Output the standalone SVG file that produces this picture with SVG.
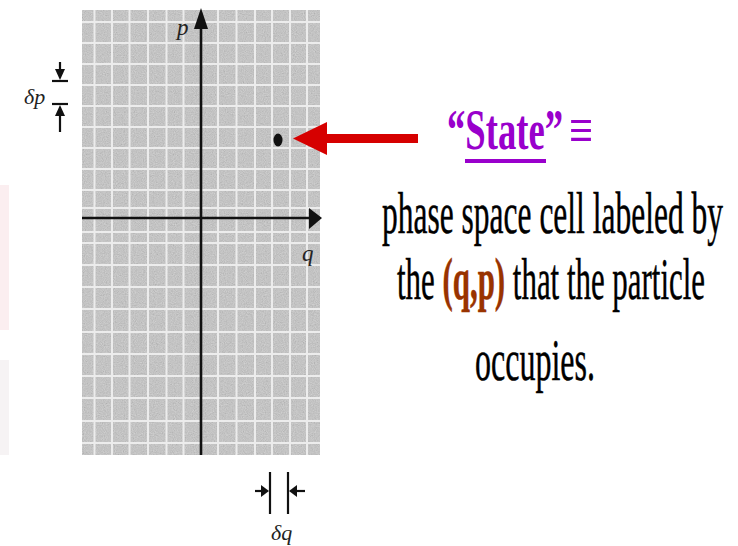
<svg xmlns="http://www.w3.org/2000/svg" width="738" height="546" viewBox="0 0 738 546">
<style>
.ax{stroke:#111;stroke-width:2.6;fill:none}
.axh{fill:#111}
.gl{stroke:#ececec;stroke-width:2}
.it{font-family:"Liberation Serif",serif;font-style:italic;fill:#222}
.body{font-family:"Liberation Serif",serif;font-size:60px;fill:#000;stroke:#000;stroke-width:0.5}
.dim{stroke:#111;stroke-width:2.2}
.st{font-family:"Liberation Serif",serif;fill:#9900cc}
</style>
<defs>
<filter id="noise" x="0" y="0" width="100%" height="100%">
<feTurbulence type="fractalNoise" baseFrequency="0.9" numOctaves="2" seed="7"/>
<feColorMatrix type="matrix" values="0.33 0.33 0.33 0 0 0.33 0.33 0.33 0 0 0.33 0.33 0.33 0 0 0 0 0 0 1"/>
</filter>
</defs>
<rect width="738" height="546" fill="#fff"/>
<rect x="0" y="185" width="9" height="145" fill="#fbeef0"/>
<rect x="0" y="360" width="9" height="95" fill="#f6f3f4"/>

<g id="grid">
<rect x="82" y="10" width="238" height="445" fill="#cacaca"/>
<rect x="82" y="10" width="238" height="445" filter="url(#noise)" opacity="0.4"/>
<g class="gl">
<line x1="82" y1="22" x2="320" y2="22"/>
<line x1="82" y1="43" x2="320" y2="43"/>
<line x1="82" y1="64" x2="320" y2="64"/>
<line x1="82" y1="85" x2="320" y2="85"/>
<line x1="82" y1="106" x2="320" y2="106"/>
<line x1="82" y1="127" x2="320" y2="127"/>
<line x1="82" y1="148" x2="320" y2="148"/>
<line x1="82" y1="169" x2="320" y2="169"/>
<line x1="82" y1="190" x2="320" y2="190"/>
<line x1="82" y1="208" x2="320" y2="208"/>
<line x1="82" y1="232" x2="320" y2="232"/>
<line x1="82" y1="243" x2="320" y2="243"/>
<line x1="82" y1="265" x2="320" y2="265"/>
<line x1="82" y1="287" x2="320" y2="287"/>
<line x1="82" y1="309" x2="320" y2="309"/>
<line x1="82" y1="332" x2="320" y2="332"/>
<line x1="82" y1="354" x2="320" y2="354"/>
<line x1="82" y1="376" x2="320" y2="376"/>
<line x1="82" y1="398" x2="320" y2="398"/>
<line x1="82" y1="421" x2="320" y2="421"/>
<line x1="82" y1="443" x2="320" y2="443"/>
<line x1="94.5" y1="10" x2="94.5" y2="455"/>
<line x1="112" y1="10" x2="112" y2="455"/>
<line x1="129.5" y1="10" x2="129.5" y2="455"/>
<line x1="148" y1="10" x2="148" y2="455"/>
<line x1="166.5" y1="10" x2="166.5" y2="455"/>
<line x1="183.5" y1="10" x2="183.5" y2="455"/>
<line x1="218" y1="10" x2="218" y2="455"/>
<line x1="236.5" y1="10" x2="236.5" y2="455"/>
<line x1="255" y1="10" x2="255" y2="455"/>
<line x1="272" y1="10" x2="272" y2="455"/>
<line x1="290" y1="10" x2="290" y2="455"/>
<line x1="307" y1="10" x2="307" y2="455"/>
</g>
</g>

<g id="axes">
<line class="ax" x1="201" y1="455" x2="201" y2="24"/>
<polygon class="axh" points="201,8 208,29 194,29"/>
<line class="ax" x1="82" y1="218" x2="312" y2="218"/>
<polygon class="axh" points="322,218 309,208 309,229"/>
<text class="it" x="177" y="35" font-size="23">p</text>
<text class="it" x="302" y="261" font-size="23">q</text>
</g>

<g id="delta-p">
<text class="it" x="24" y="104" font-size="22">δp</text>
<line class="dim" x1="60" y1="62" x2="60" y2="72"/>
<polygon class="axh" points="60,80 55,69 65,69"/>
<line class="dim" x1="52" y1="81" x2="68" y2="81"/>
<line class="dim" x1="52" y1="104" x2="68" y2="104"/>
<polygon class="axh" points="60,105 55,116 65,116"/>
<line class="dim" x1="60" y1="114" x2="60" y2="132"/>
</g>

<g id="delta-q">
<line class="dim" x1="255" y1="491" x2="263" y2="491"/>
<polygon class="axh" points="269,491 261,485 261,497"/>
<line class="dim" x1="270" y1="472" x2="270" y2="514"/>
<line class="dim" x1="288" y1="472" x2="288" y2="514"/>
<polygon class="axh" points="289,491 297,485 297,497"/>
<line class="dim" x1="295" y1="491" x2="305" y2="491"/>
<text class="it" x="271" y="540" font-size="22">δq</text>
</g>

<g id="particle">
<ellipse cx="278" cy="140" rx="4.5" ry="6.5" fill="#111"/>
</g>

<g id="connectors">
<line x1="418" y1="138.5" x2="320" y2="138.5" stroke="#d60000" stroke-width="9"/>
<polygon points="293,138.5 327,122 327,155" fill="#d60000"/>
</g>

<g id="state-label">
<text class="st" x="447" y="149" font-size="56" font-weight="bold" textLength="116" lengthAdjust="spacingAndGlyphs">“State”</text>
<rect x="465" y="159" width="81" height="4" fill="#9900cc"/>
<text class="st" x="569" y="151" font-size="62" textLength="24" lengthAdjust="spacingAndGlyphs">≡</text>
</g>

<g id="description">
<text class="body" x="382" y="233" textLength="341" lengthAdjust="spacingAndGlyphs">phase space cell labeled  by</text>
<text class="body" x="397" y="299" textLength="308" lengthAdjust="spacingAndGlyphs">the <tspan font-weight="bold" fill="#993300" stroke="#993300">(q,p)</tspan> that the particle</text>
<text class="body" x="475" y="380" textLength="120" lengthAdjust="spacingAndGlyphs">occupies.</text>
</g>
</svg>
